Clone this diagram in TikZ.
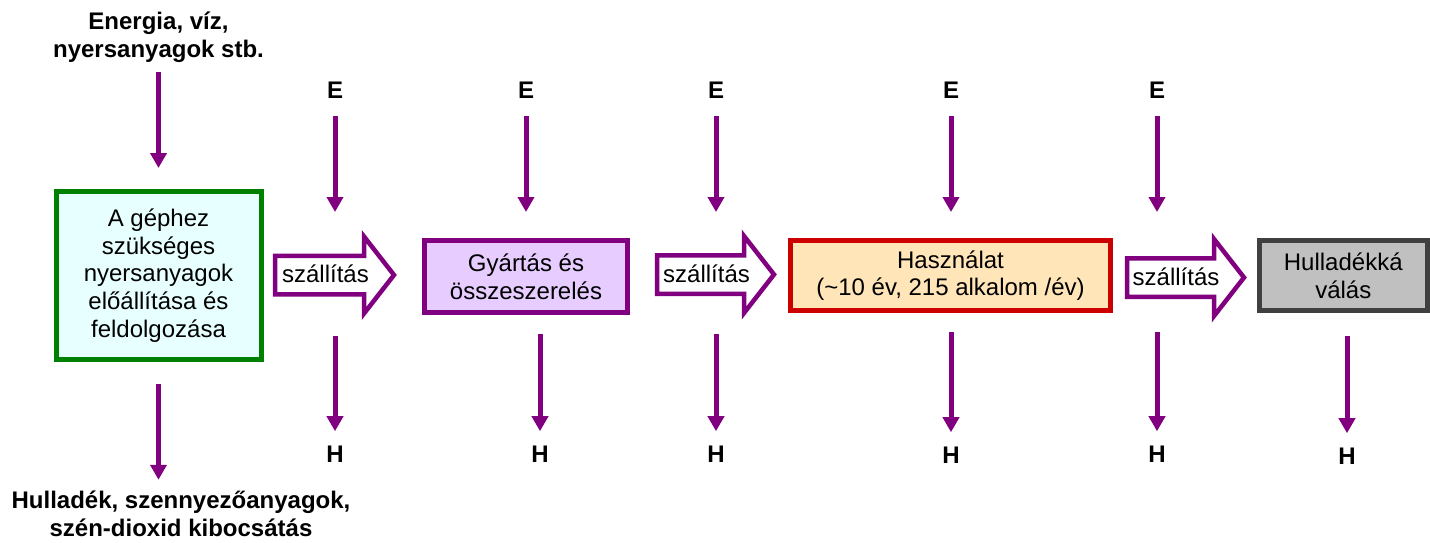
\documentclass[tikz,border=0pt]{standalone}
\usepackage{fontspec}
\setmainfont{Liberation Sans}
\usetikzlibrary{arrows.meta}

\definecolor{flowpurple}{HTML}{800080}
\definecolor{stagegreen}{HTML}{008000}
\definecolor{stagecyan}{HTML}{E8FFFF}
\definecolor{stagelilac}{HTML}{E6CCFF}
\definecolor{stagered}{HTML}{CC0000}
\definecolor{stagepeach}{HTML}{FFE5B8}
\definecolor{stagedark}{HTML}{404040}
\definecolor{stagegrey}{HTML}{C0C0C0}

\newcommand{\diagfont}{\fontsize{24}{27.6}\selectfont}

\begin{document}
\begin{tikzpicture}[%
    x=1pt, y=-1pt,
    flow/.style={draw=flowpurple, line width=5pt, -{Triangle[width=16pt,length=15pt]}},
    stage/.style={rectangle, line width=5pt, align=center, inner sep=0pt, font=\diagfont},
    szallit/.style={draw=flowpurple, fill=white, line width=4.5pt, line join=miter},
    bigtext/.style={align=center, font=\diagfont\bfseries},
    letter/.style={font=\diagfont\bfseries}
  ]
    \useasboundingbox (0,0) rectangle (1430,542);

    % life cycle stages
    \node[stage, draw=stagegreen, fill=stagecyan, minimum width=205pt, minimum height=168pt]
      (nyers) at (158.5,275.5) {A géphez\\szükséges\\nyersanyagok\\előállítása és\\feldolgozása};
    \node[stage, draw=flowpurple, fill=stagelilac, minimum width=203pt, minimum height=72pt]
      (gyartas) at (526,276.5) {Gyártás és\\összeszerelés};
    \node[stage, draw=stagered, fill=stagepeach, minimum width=320pt, minimum height=70pt]
      (hasznalat) at (950.5,275.5) {Használat\\(\textasciitilde10 év, 215 alkalom /év)};
    \node[stage, draw=stagedark, fill=stagegrey, minimum width=167.5pt, minimum height=70pt]
      (hulladek) at (1343.25,275.5) {Hulladékká\\válás};

    % transport arrows
    \foreach \n/\t/\b/\p/\c/\l in {sz1/275/364/394/275/325.5,
                                   sz2/657/744/774/274.5/706.5,
                                   sz3/1127/1214/1244/277.5/1176} {
      \draw[szallit] (\t,\c-19.25) -- (\b,\c-19.25) -- (\b,\c-38.5) -- (\p,\c)
                     -- (\b,\c+38.5) -- (\b,\c+19.25) -- (\t,\c+19.25) -- cycle;
      \node[font=\diagfont] (\n) at (\l,\c-1) {szállítás};
    }

    % inputs and outputs of the first stage
    \node[bigtext] (inputs)  at (158.5,37) {Energia, víz,\\nyersanyagok stb.};
    \node[bigtext] (outputs) at (181,514)  {Hulladék, szennyezőanyagok,\\szén-dioxid kibocsátás};
    \draw[flow, shorten <=6pt, shorten >=21pt] (inputs) -- (nyers);
    \draw[flow, shorten <=22pt, shorten >=8pt] (nyers.south) -- (nyers.south |- outputs.north);

    % energy in
    \foreach \x [count=\i] in {335,526,716,951,1157} {
      \node[letter] (E\i) at (\x,90) {E};
      \coordinate (Ee\i) at (\x,212);
      \draw[flow, shorten <=14pt] (E\i) -- (Ee\i);
    }

    % waste out
    \foreach \x/\s/\h [count=\i] in {335/336/454, 540/334/454, 716/334/454,
                                     951/332/455, 1157/332/454, 1347/336/456} {
      \coordinate (Hs\i) at (\x,\s);
      \node[letter] (H\i) at (\x,\h) {H};
      \draw[flow, shorten >=11pt] (Hs\i) -- (H\i);
    }
\end{tikzpicture}
\end{document}
